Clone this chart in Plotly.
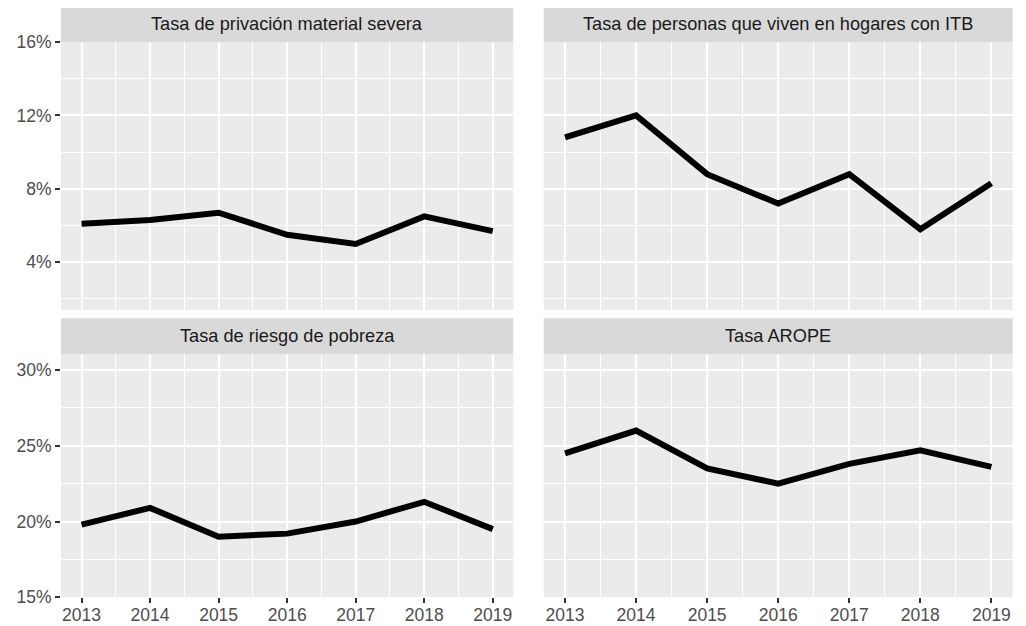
import plotly.graph_objects as go

years = [2013, 2014, 2015, 2016, 2017, 2018, 2019]
titles = ["Tasa de privación material severa",
          "Tasa de personas que viven en hogares con ITB",
          "Tasa de riesgo de pobreza",
          "Tasa AROPE"]
pms = [6.1, 6.3, 6.7, 5.5, 5.0, 6.5, 5.7]
itb = [10.8, 12.0, 8.8, 7.2, 8.8, 5.8, 8.3]
pobreza = [19.8, 20.9, 19.0, 19.2, 20.0, 21.3, 19.5]
arope = [24.5, 26.0, 23.5, 22.5, 23.8, 24.7, 23.6]
series = [pms, itb, pobreza, arope]
top_ticks = [4, 8, 12, 16]
bottom_ticks = [15, 20, 25, 30]

# page body has an 8px margin; size the figure so it fits the 1026x626 viewport
OFF = 8
W, H = 1026 - OFF, 626 - OFF
def fx(px): return (px - OFF) / W
def fy(py): return 1 - (py - OFF) / H

cols = [(61, 513.3), (543.7, 1012.7)]
rows = [(42, 310), (354, 597.3)]
strips = [(OFF, 42), (318.3, 354)]

fig = go.Figure()
shapes = []
annotations = []
font_family = "Liberation Sans, Arial, sans-serif"

for i, (title, vals) in enumerate(zip(titles, series)):
    r, c = divmod(i, 2)
    n = i + 1
    xa = "x" if n == 1 else f"x{n}"
    ya = "y" if n == 1 else f"y{n}"
    fig.add_trace(go.Scatter(x=years, y=vals, mode="lines",
                             line=dict(color="black", width=6),
                             xaxis=xa, yaxis=ya, showlegend=False,
                             hoverinfo="x+y"))
    x0, x1 = cols[c]
    y0, y1 = rows[r]
    show_x = (r == 1)
    show_y = (c == 0)
    if r == 0:
        yrange = [1.4, 16.0]
        yt = top_ticks
        minor = dict(tick0=2, dtick=4, showgrid=True, gridcolor="white", gridwidth=1, ticks="")
    else:
        yrange = [15.0, 31.05]
        yt = bottom_ticks
        minor = dict(tick0=2.5, dtick=5, showgrid=True, gridcolor="white", gridwidth=1, ticks="")
    xkey = "xaxis" if n == 1 else f"xaxis{n}"
    ykey = "yaxis" if n == 1 else f"yaxis{n}"
    fig.update_layout(**{
        xkey: dict(domain=[fx(x0), fx(x1)], anchor=ya, range=[2012.7, 2019.3],
                   tickmode="array", tickvals=years, ticktext=[str(y) for y in years],
                   showticklabels=show_x, automargin=False, ticklabelstandoff=-3,
                   ticks="outside" if show_x else "", ticklen=5, tickwidth=1.5,
                   tickcolor="#333333",
                   tickfont=dict(size=17.5, color="#4D4D4D", family=font_family),
                   showgrid=True, gridcolor="white", gridwidth=2,
                   minor=dict(tick0=2012.5, dtick=1, showgrid=True, gridcolor="white", gridwidth=1, ticks=""),
                   zeroline=False, showline=False, fixedrange=True),
        ykey: dict(domain=[fy(y1), fy(y0)], anchor=xa, range=yrange,
                   tickmode="array", tickvals=yt, ticktext=[f"{v}%" for v in yt],
                   showticklabels=show_y, automargin=False,
                   ticks="outside" if show_y else "", ticklen=5, tickwidth=1.5,
                   tickcolor="#333333",
                   tickfont=dict(size=17.5, color="#4D4D4D", family=font_family),
                   showgrid=True, gridcolor="white", gridwidth=2, minor=minor,
                   zeroline=False, showline=False, fixedrange=True),
    })
    s0, s1 = strips[r]
    shapes.append(dict(type="rect", xref="paper", yref="paper",
                       x0=fx(x0), x1=fx(x1), y0=fy(s1), y1=fy(s0),
                       fillcolor="#D9D9D9", line=dict(width=0), layer="below"))
    annotations.append(dict(text=title, xref="paper", yref="paper",
                            x=(fx(x0) + fx(x1)) / 2, y=fy(s1 - 18 if r == 0 else (s0 + s1) / 2),
                            xanchor="center", yanchor="middle", showarrow=False,
                            font=dict(size=18.2, color="#1A1A1A", family=font_family)))

fig.update_layout(template="none", width=W, height=H,
                  margin=dict(l=0, r=0, t=0, b=0, pad=0, autoexpand=False),
                  paper_bgcolor="white", plot_bgcolor="#EBEBEB",
                  shapes=shapes, annotations=annotations, showlegend=False)

fig.write_html("out.html")
